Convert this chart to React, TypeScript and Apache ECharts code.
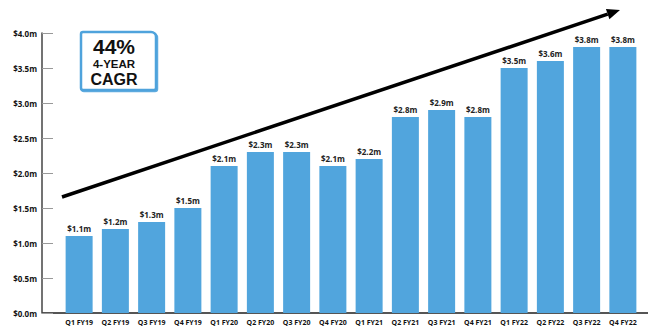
import React, { useEffect, useRef } from "react";
import * as echarts from "echarts";

const categories = [
  "Q1 FY19", "Q2 FY19", "Q3 FY19", "Q4 FY19",
  "Q1 FY20", "Q2 FY20", "Q3 FY20", "Q4 FY20",
  "Q1 FY21", "Q2 FY21", "Q3 FY21", "Q4 FY21",
  "Q1 FY22", "Q2 FY22", "Q3 FY22", "Q4 FY22",
];
const revenue = [1.1, 1.2, 1.3, 1.5, 2.1, 2.3, 2.3, 2.1, 2.2, 2.8, 2.9, 2.8, 3.5, 3.6, 3.8, 3.8];
const cagrLines = ["44%", "4-YEAR", "CAGR"];

const FONT = "'Open Sans', 'DejaVu Sans', sans-serif";
const BOX_FONT = "'Liberation Sans', Arial, sans-serif";

export default function App() {
  const ref = useRef<HTMLDivElement>(null);
  useEffect(() => {
    if (!ref.current) return;
    const chart = echarts.init(ref.current, null, { renderer: "svg" });
    const tip = [620, 10];
    const start = [62, 197];
    const dx = tip[0] - start[0];
    const dy = tip[1] - start[1];
    const len = Math.sqrt(dx * dx + dy * dy);
    const ux = dx / len, uy = dy / len;
    const nx = -uy, ny = ux;
    const headLen = 13, headW = 5.5;
    const bx = tip[0] - headLen * ux, by = tip[1] - headLen * uy;
    chart.setOption({
      animation: false,
      backgroundColor: "#ffffff",
      grid: { left: 61, right: 8, top: 33, bottom: 16 },
      xAxis: {
        type: "category",
        data: categories,
        axisLine: { show: false },
        axisTick: { show: false },
        axisLabel: {
          fontFamily: FONT,
          fontWeight: "bold",
          fontSize: 7,
          color: "#111",
          margin: 6,
          interval: 0,
        },
      },
      yAxis: {
        type: "value",
        min: 0,
        max: 4,
        interval: 0.5,
        offset: 19,
        splitLine: { show: false },
        axisLine: { show: true, lineStyle: { color: "#444", width: 1.5 } },
        axisTick: { show: true, inside: true, length: 11, lineStyle: { color: "#999", width: 1 } },
        axisLabel: {
          fontFamily: FONT,
          fontWeight: "bold",
          fontSize: 8,
          color: "#111",
          margin: 5,
          formatter: (v: number) => "$" + v.toFixed(1) + "m",
        },
      },
      series: [
        {
          type: "bar",
          data: revenue,
          barWidth: 27,
          itemStyle: { color: "#51a5dd" },
          label: {
            show: true,
            position: "top",
            distance: 4,
            fontFamily: FONT,
            fontWeight: "bold",
            fontSize: 8,
            color: "#222",
            formatter: (p: any) => "$" + Number(p.value).toFixed(1) + "m",
          },
        },
      ],
      graphic: [
        {
          type: "line",
          shape: { x1: 42, y1: 313, x2: 648, y2: 313 },
          style: { stroke: "#555", lineWidth: 2 },
        },
        {
          type: "line",
          shape: { x1: start[0], y1: start[1], x2: bx, y2: by },
          style: { stroke: "#000", lineWidth: 3.5 },
        },
        {
          type: "polygon",
          shape: {
            points: [
              [tip[0], tip[1]],
              [bx + headW * nx, by + headW * ny],
              [bx - headW * nx, by - headW * ny],
            ],
          },
          style: { fill: "#000" },
        },
        {
          type: "rect",
          shape: { x: 81, y: 32, width: 75, height: 58, r: [2, 5, 2, 2] },
          style: { fill: "#fff", stroke: "#4fa3dc", lineWidth: 2.5, shadowColor: "rgba(79,163,220,0.9)", shadowOffsetX: 1, shadowOffsetY: 1 },
        },
        {
          type: "text",
          x: 114,
          y: 46,
          style: { text: cagrLines[0], fontFamily: BOX_FONT, fontWeight: "bold", fontSize: 21, fill: "#111", align: "center", verticalAlign: "middle" },
        },
        {
          type: "text",
          x: 114,
          y: 64,
          style: { text: cagrLines[1], fontFamily: BOX_FONT, fontWeight: "bold", fontSize: 11.5, fill: "#111", align: "center", verticalAlign: "middle" },
        },
        {
          type: "text",
          x: 114,
          y: 79,
          style: { text: cagrLines[2], fontFamily: BOX_FONT, fontWeight: "bold", fontSize: 16, fill: "#111", align: "center", verticalAlign: "middle" },
        },
      ],
    });
    return () => chart.dispose();
  }, []);
  return <div ref={ref} style={{ width: 649, height: 329, position: "absolute", left: 0, top: 0 }} />;
}
